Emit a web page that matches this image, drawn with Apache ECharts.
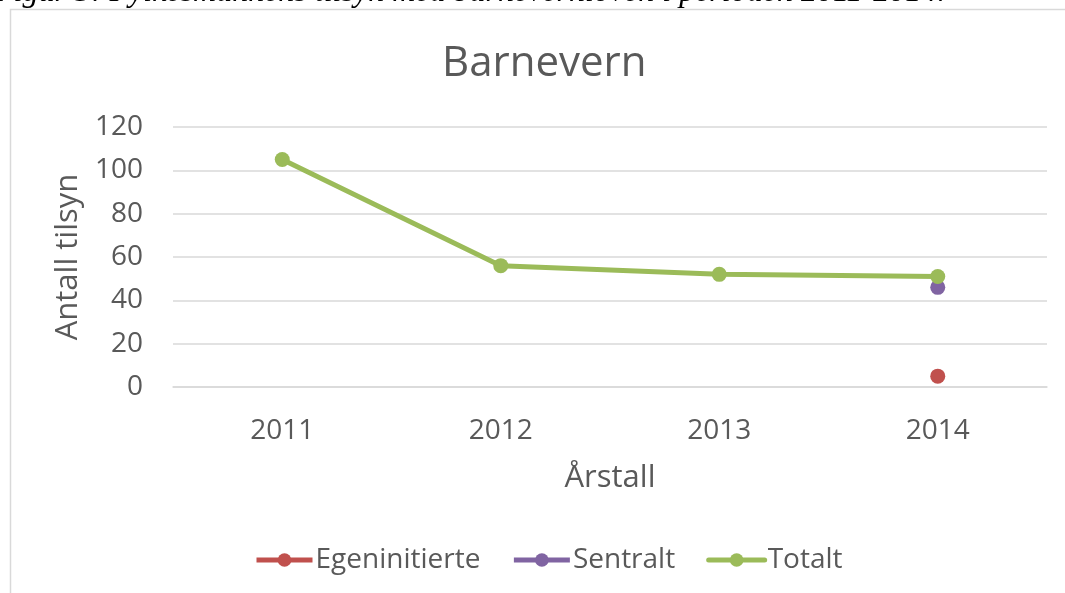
<!DOCTYPE html>
<html><head><meta charset="utf-8">
<script src="https://cdn.jsdelivr.net/npm/echarts@6/dist/echarts.min.js"></script>
<style>html,body{margin:0;padding:0;background:#fff}#c{width:1065px;height:593px}</style>
</head><body><div id="c"></div>
<script>
const categories = ['2011','2012','2013','2014'];
const egeninitierte = [null, null, null, 5];
const sentralt = [null, null, null, 46];
const totalt = [105, 56, 52, 51];
const yTicks = [0, 20, 40, 60, 80, 100, 120];

const txt = '#595959';
const font = 'Open Sans';
const chart = echarts.init(document.getElementById('c'), null, {renderer:'canvas'});
chart.setOption({
  backgroundColor:'#fff',
  animation:false,
  title:{text:'Barnevern', left:437, top:38, textStyle:{fontFamily:font, fontSize:42, fontWeight:'normal', color:txt}},
  graphic:[
    {type:'rect', shape:{x:10.5, y:9.5, width:1200, height:800}, style:{fill:null, stroke:'#d9d9d9', lineWidth:1.5}, silent:true},
    {type:'text', x:-6, y:-23, style:{text:'Figur 3: Fylkesmannens tilsyn med barnevernloven i perioden 2011-2014.', font:'italic 32px "Liberation Serif"', fill:'#000', verticalAlign:'top'}}
  ],
  grid:{left:173, right:18, top:127, bottom:206, containLabel:false},
  legend:{bottom:14, left:249, itemWidth:56, itemHeight:17, itemGap:31,
    lineStyle:{width:5},
    textStyle:{fontFamily:font, fontSize:28, color:txt, padding:[0,0,0,-2]},
    data:['Egeninitierte','Sentralt','Totalt']},
  xAxis:{type:'category', data:categories, boundaryGap:true,
    axisLine:{show:true, lineStyle:{color:'#d9d9d9', width:1.5}}, axisTick:{show:false},
    axisLabel:{fontFamily:font, fontSize:28, color:txt, margin:30},
    name:'Årstall', nameLocation:'middle', nameGap:76, nameTextStyle:{fontFamily:font, fontSize:31, color:txt}},
  yAxis:{type:'value', min:0, max:120, interval:20,
    axisLine:{show:false}, axisTick:{show:false},
    splitLine:{lineStyle:{color:'#d9d9d9', width:1.5}},
    axisLabel:{fontFamily:font, fontSize:28, color:txt, margin:30, formatter:v=>yTicks.includes(v)?String(v):''},
    name:'Antall tilsyn', nameLocation:'middle', nameGap:89, nameRotate:90, nameTextStyle:{fontFamily:font, fontSize:31, color:txt}},
  series:[
    {name:'Egeninitierte', type:'line', data:egeninitierte, symbol:'circle', symbolSize:15, color:'#C0504D', lineStyle:{width:5}, connectNulls:false},
    {name:'Sentralt', type:'line', data:sentralt, symbol:'circle', symbolSize:15, color:'#8064A2', lineStyle:{width:5}},
    {name:'Totalt', type:'line', data:totalt, symbol:'circle', symbolSize:15, color:'#9BBB59', lineStyle:{width:5, cap:'round'}}
  ]
});
</script></body></html>
